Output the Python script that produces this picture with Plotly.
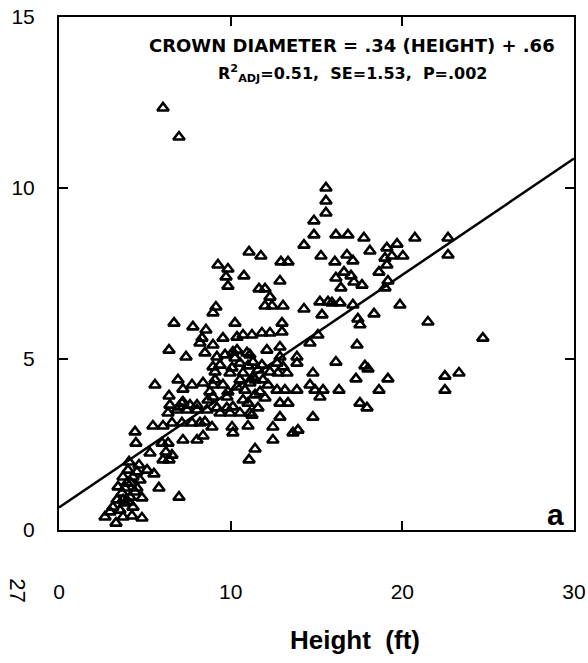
import plotly.graph_objects as go

# Tree height (ft) and crown diameter (ft)
height = [
    2.68, 3.32, 3.73, 4.25, 4.83, 3.14, 3.38, 3.67, 3.84, 4.14, 3.44, 3.96, 4.54, 4.83, 4.31, 3.73,
    4.72, 4.02, 4.54, 3.55, 4.31, 5.82, 6.99, 5.13, 5.53, 4.08, 5.30, 4.48, 4.43, 6.00, 6.06, 6.41,
    6.23, 6.58, 6.35, 7.22, 8.04, 8.39, 5.47, 6.06, 6.58, 7.16, 7.75, 8.21, 6.35, 6.87, 7.45, 8.04,
    8.62, 7.22, 6.99, 7.63, 9.20, 9.78, 10.13, 10.54, 9.96, 9.38, 11.12, 10.13, 10.08, 11.01, 11.42,
    11.07, 12.46, 12.46, 13.63, 13.92, 14.79, 12.87, 12.87, 13.34, 11.01, 11.59,
    2.97, 4.02, 4.43, 3.84, 4.19, 4.66, 3.73,
    9.55, 10.72, 11.24, 11.82, 12.29, 12.99, 15.08, 14.62, 8.97, 8.50, 9.67, 9.20, 10.13, 11.12,
    12.11, 12.87, 12.87, 13.86, 13.86, 10.54, 11.30, 12.70, 13.05, 13.28, 12.75, 9.09, 9.96, 10.72,
    11.30, 14.79, 8.39, 8.97, 9.55, 10.37, 11.12, 11.71, 12.70, 13.16, 13.86, 14.91, 15.38, 8.97,
    9.78, 10.72, 15.20, 11.24, 8.50, 8.91, 14.62, 16.31, 8.21, 10.37, 10.95, 10.37, 11.42, 11.88,
    10.54, 9.09, 12.29,
    9.38, 10.08, 10.83, 11.42, 12.00, 8.79, 9.84, 11.01, 11.82, 12.17, 10.25, 11.59,
    5.59, 6.41, 6.93, 7.22, 7.75, 6.41, 7.40, 6.70, 7.80, 8.56, 8.33, 8.97, 6.46, 7.16, 8.04, 8.68,
    9.14, 8.97, 9.26, 9.84, 9.73, 9.84, 10.77,
    10.25, 12.99, 11.07, 11.76, 12.93, 13.34, 12.87, 11.65, 12.00, 12.29, 12.00, 12.41, 13.05, 14.27,
    15.20, 15.67, 15.32, 15.55, 15.55, 15.55, 14.85, 14.85, 14.27, 16.13, 16.83, 15.26,
    17.76, 18.11, 19.10, 19.69, 20.73, 22.66, 22.66, 16.07, 16.77, 17.12, 18.99, 19.39, 20.03, 19.10,
    18.64, 16.60, 17.01, 16.13, 17.18, 17.65, 19.16, 18.99, 16.42, 15.90, 16.37, 17.12, 19.86, 18.35,
    17.41, 17.53, 21.49, 17.36, 24.69, 16.13, 17.82, 18.00, 17.30, 19.16, 22.48, 23.30, 18.64, 22.48,
    17.53, 17.94,
    6.06, 6.99,
]
crown = [
    0.38, 0.20, 0.38, 0.41, 0.35, 0.67, 0.88, 1.08, 0.79, 0.96, 1.26, 1.37, 1.23, 0.94, 1.55, 1.55,
    1.46, 1.75, 1.70, 0.58, 0.67, 1.23, 0.96, 1.75, 1.64, 1.99, 2.25, 2.54, 2.87, 2.54, 2.05, 2.05,
    2.28, 2.19, 2.54, 2.63, 2.63, 2.75, 3.04, 3.04, 3.13, 3.13, 3.13, 3.13, 3.42, 3.51, 3.51, 3.51,
    3.51, 3.74, 3.60, 3.65, 3.57, 3.57, 3.60, 3.42, 3.42, 3.42, 3.42, 2.84, 3.01, 3.04, 2.37,
    2.05, 2.63, 3.01, 2.84, 2.92, 3.30, 3.30, 3.71, 3.71, 3.71, 3.57,
    0.53, 0.82, 1.11, 1.23, 1.37, 1.90, 0.88,
    5.61, 5.70, 5.70, 5.76, 5.76, 5.79, 5.70, 5.47, 5.41, 5.18, 5.12, 5.06, 5.20, 5.12,
    5.26, 5.35, 5.06, 5.06, 4.88, 4.88, 4.91, 4.88, 4.77, 4.59, 4.59, 4.62, 4.59, 4.59,
    4.47, 4.59, 4.30, 4.24, 4.24, 4.18, 4.30, 4.04, 4.09, 4.09, 4.09, 4.09, 4.09, 3.89,
    3.89, 3.80, 3.89, 3.36, 3.16, 3.01, 4.24, 4.09, 5.47, 5.64, 5.18, 5.26, 4.39, 4.39,
    4.39, 4.39, 4.62,
    4.82, 4.74, 4.09, 3.95, 3.86, 4.04, 4.04, 4.80, 4.82, 4.24, 5.03, 4.68,
    4.24, 3.92, 4.39, 4.12, 4.24, 5.26, 5.06, 6.05, 5.94, 5.85, 5.61, 4.77, 3.65, 3.71, 3.65, 3.80,
    6.52, 6.35, 7.75, 7.63, 7.40, 7.13, 7.43,
    6.05, 6.05, 8.13, 8.01, 7.84, 7.84, 7.28, 7.05, 7.05, 6.81, 6.55, 6.55, 6.55, 6.46,
    6.67, 6.67, 6.29, 10.00, 9.62, 9.27, 9.04, 8.63, 8.33, 8.63, 8.63, 8.01,
    8.54, 8.16, 8.25, 8.36, 8.54, 8.54, 8.04, 7.84, 8.04, 7.87, 7.95, 8.01, 8.01, 7.75,
    7.54, 7.54, 7.43, 7.37, 7.25, 7.16, 7.28, 7.08, 7.08, 6.64, 6.64, 6.58, 6.58, 6.32,
    6.17, 6.00, 6.08, 5.41, 5.61, 4.91, 4.80, 4.71, 4.42, 4.42, 4.50, 4.59, 4.09, 4.09,
    3.71, 3.57,
    12.34, 11.49,
]

# Regression: crown diameter = 0.34 * height + 0.66
slope = 0.34
intercept = 0.66
line_x = [0, 30]
line_y = [intercept + slope * v for v in line_x]

x_ticks = [0, 10, 20, 30]
y_ticks = [0, 5, 10, 15]

fig = go.Figure()
fig.add_trace(go.Scatter(
    x=line_x, y=line_y, mode="lines",
    line=dict(color="black", width=2.5), hoverinfo="skip", showlegend=False,
))
fig.add_trace(go.Scatter(
    x=height, y=crown, mode="markers",
    marker=dict(symbol="triangle-up-open", size=10, color="black",
                line=dict(color="black", width=2.6)),
    showlegend=False,
))

font_family = "Liberation Sans, Arial, Helvetica, sans-serif"
wide_bold = "DejaVu Sans, Verdana, sans-serif"

axis_common = dict(
    showline=True, linecolor="black", linewidth=2, mirror="allticks",
    ticks="inside", ticklen=9, tickwidth=2, tickcolor="black",
    showgrid=False, zeroline=False, automargin=False,
    tickfont=dict(family=font_family, size=21, color="black"),
)

fig.update_xaxes(range=[0, 30], tickvals=x_ticks, ticktext=[str(v) for v in x_ticks],
                 ticklabelstandoff=42, **axis_common)
fig.update_yaxes(range=[0, 15], tickvals=y_ticks, ticktext=[str(v) for v in y_ticks],
                 ticklabelstandoff=18, **axis_common)

annotations = [
    dict(text="<b>CROWN DIAMETER = .34 (HEIGHT) + .66</b>", x=0.569, y=0.945,
         font=dict(size=18, family=wide_bold)),
    dict(text="<b>R<sup>2</sup><sub>ADJ</sub>=0.51,  SE=1.53,  P=.002</b>", x=0.571, y=0.889,
         font=dict(size=16, family=wide_bold)),
    dict(text="<b>a</b>", x=0.965, y=0.03, font=dict(size=30, family=font_family)),
    dict(text="<b>Height  (ft)</b>", x=0.575, y=-0.214, font=dict(size=26, family=font_family)),
    dict(text="27", x=-0.08, y=-0.117, textangle=90, font=dict(size=22, family=font_family)),
]
for a in annotations:
    a.update(xref="paper", yref="paper", showarrow=False, xanchor="center", yanchor="middle")
    a["font"]["color"] = "black"
fig.update_layout(
    annotations=annotations,
    width=588, height=663,
    margin=dict(l=59, r=14, t=17, b=133, autoexpand=False),
    paper_bgcolor="white", plot_bgcolor="white",
    showlegend=False,
)

fig.write_html("out.html", config={"displayModeBar": False},
               post_script="document.body.style.margin='0';document.body.style.overflow='hidden';")
